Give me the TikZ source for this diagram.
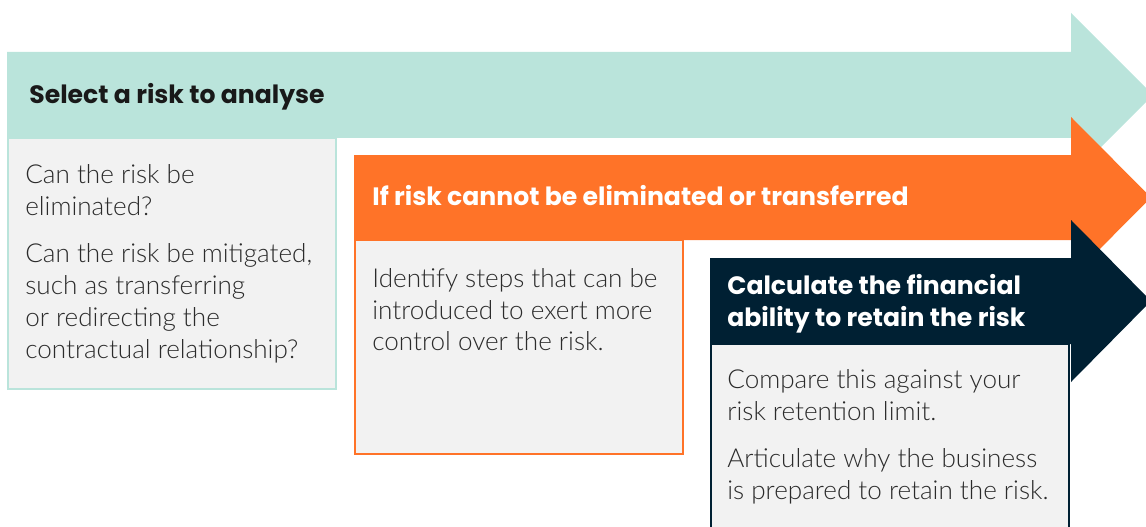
\documentclass[tikz,border=0pt]{standalone}
\usepackage{fontspec}
\setmainfont{Lato Light}
\newfontfamily\headfont{Poppins}

\definecolor{riskteal}{HTML}{BAE4DB}
\definecolor{riskorange}{HTML}{FF7328}
\definecolor{risknavy}{HTML}{002033}
\definecolor{panelgray}{HTML}{F2F2F2}
\definecolor{bodygray}{HTML}{2B2B2B}

\tikzset{
  panel/.style={fill=panelgray, line width=1.2pt},
  bodytext/.style={anchor=north west, align=left, inner sep=0pt,
    text=bodygray, font=\fontsize{14.85}{18.1}\selectfont},
  headtext/.style={anchor=base west, align=left, inner sep=0pt,
    font=\headfont\bfseries\fontsize{14.3}{18.1}\selectfont}
}

\begin{document}
\begin{tikzpicture}[x=0.02cm,y=-0.02cm]

\useasboundingbox (0,0) rectangle (1146,527);
\clip (0,0) rectangle (1146,527);

% first step
\fill[riskteal] (7,52) -- (1071,52) -- (1071,13) -- (1153,95)
  -- (1071,177) -- (1071,138) -- (7,138) -- cycle;
\draw[panel, draw=riskteal] (8,138) rectangle (336,389);

% second step
\fill[riskorange] (354,155) -- (1071,155) -- (1071,117) -- (1151,197.5)
  -- (1071,278) -- (1071,240) -- (354,240) -- cycle;
\draw[panel, draw=riskorange] (355,240) rectangle (683,454);

% third step
\fill[risknavy] (710,258) -- (1071,258) -- (1071,220) -- (1151,301)
  -- (1071,382) -- (1071,344) -- (710,344) -- cycle;
\draw[panel, draw=risknavy] (711,344) rectangle (1069,560);

% headings
\node[headtext, text=black!90] (select) at (29,104) {Select a risk to analyse};
\node[headtext, text=white] (ifrisk) at (372,205) {If risk cannot be eliminated or transferred};
\node[headtext, text=white] (calc) at (727,326) {Calculate the financial\\ability to retain the risk};

% panel texts
\node[bodytext] (canrisk) at (25,164) {Can the risk be\\eliminated?\\[9pt]
  Can the risk be mitigated,\\such as transferring\\or redirecting the\\contractual relationship?};
\node[bodytext] (identify) at (372,268) {Identify steps that can be\\introduced to exert more\\control over the risk.};
\node[bodytext] (compare) at (727,369) {Compare this against your\\risk retention limit.\\[9pt]
  Articulate why the business\\is prepared to retain the risk.};

\end{tikzpicture}
\end{document}
